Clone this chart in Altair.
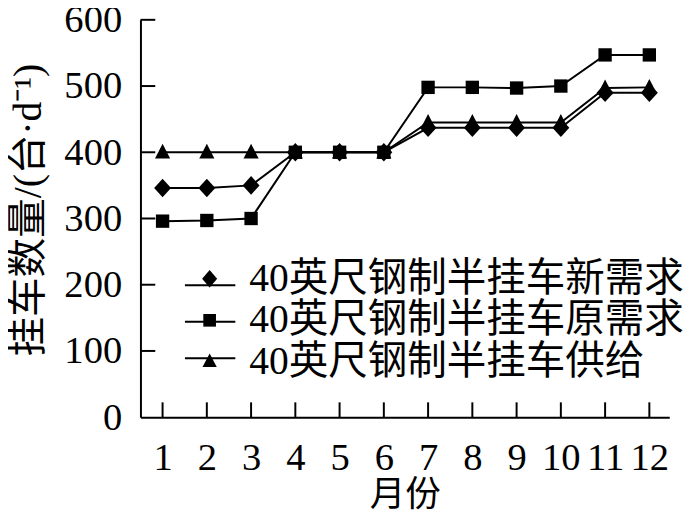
import altair as alt
import pandas as pd

# ---- data ----
months = list(range(1, 13))
series_names = ["40英尺钢制半挂车新需求", "40英尺钢制半挂车原需求", "40英尺钢制半挂车供给"]
new_demand = [346, 346, 350, 400, 400, 400, 437, 437, 437, 437, 490, 490]
orig_demand = [296, 297, 300, 400, 400, 400, 498, 498, 497, 500, 547, 547]
supply = [400, 400, 400, 400, 400, 400, 445, 445, 445, 445, 497, 498]
y_ticks = [0, 100, 200, 300, 400, 500, 600]

x_title = "月份"
y_title = "挂车数量/(台·d⁻¹)"

rows = []
for name, vals in zip(series_names, [new_demand, orig_demand, supply]):
    for m, v in zip(months, vals):
        rows.append({"month": m, "value": v, "series": name, "series_line": name})
df = pd.DataFrame(rows)
xt = pd.DataFrame({"month": months})
yt = pd.DataFrame({"value": [v for v in y_ticks if v > 0]})

# ---- styling ----
W, H = 535, 402
FONT = "'Liberation Serif', 'Noto Sans CJK SC'"
FS = 39
TICK = 15
LEG_X, LEG_Y = 50, 242

marker_paths = [
    "M0,-1.05L0.95,0L0,1.05L-0.95,0Z",
    "M-0.75,-0.75H0.75V0.75H-0.75Z",
    "M0,-0.95L0.85,0.7H-0.85Z",
]
legend_paths = [
    "M0,-1.1L0.95,0L0,1.1L-0.95,0Z",
    "M-0.8,-0.8L0.8,-0.8L0.8,0.8L-0.8,0.8Z",
    "M0,-1.05L0.9,0.65L-0.9,0.65Z",
]

x_enc = alt.X(
    "month:Q",
    scale=alt.Scale(domain=[0.5, 12.45], nice=False, zero=False),
    axis=alt.Axis(
        values=months, format="d", ticks=False, tickSize=0, grid=False,
        domainColor="black", domainWidth=2,
        labelFont=FONT, labelFontSize=FS, labelColor="black", labelPadding=22,
        labelFlush=False, labelOverlap=False,
        title=x_title, titleFont=FONT, titleFontSize=36, titleFontWeight="normal",
        titleColor="black", titlePadding=0,
    ),
)
y_enc = alt.Y(
    "value:Q",
    scale=alt.Scale(domain=[0, 600], nice=False, zero=True),
    axis=alt.Axis(
        values=y_ticks, format="d", ticks=False, tickSize=0, grid=False,
        domainColor="black", domainWidth=2,
        labelFont=FONT, labelFontSize=FS, labelColor="black", labelPadding=19,
        labelFlush=False, labelOverlap=False,
        title=y_title, titleFont=FONT, titleFontSize=40, titleFontWeight="normal",
        titleColor="black", titlePadding=16, titleY=192,
    ),
)

x_ticks = alt.Chart(xt).mark_rule(color="black", strokeWidth=2).encode(
    x=alt.X("month:Q"), y=alt.value(H), y2=alt.value(H - TICK)
)
y_ticks_layer = alt.Chart(yt).mark_rule(color="black", strokeWidth=2).encode(
    y=alt.Y("value:Q"), x=alt.value(0), x2=alt.value(TICK)
)

# lines; their (label-less) legend gives the horizontal stroke behind each legend marker
lines = alt.Chart(df).mark_line(strokeWidth=2).encode(
    x=x_enc, y=y_enc,
    color=alt.Color(
        "series_line:N",
        sort=series_names,
        scale=alt.Scale(range=["black"] * 3),
        legend=alt.Legend(
            title=None, orient="none", legendX=LEG_X - 6, legendY=LEG_Y,
            symbolType="stroke", symbolSize=2601, symbolStrokeWidth=2,
            symbolStrokeColor="black", labelExpr="''", rowPadding=5, zindex=0,
        ),
    ),
)

marker_layers = [
    alt.Chart(df).transform_filter(alt.datum.series == name).mark_point(
        filled=True, color="black", opacity=1, size=324, shape=path
    ).encode(x="month:Q", y="value:Q")
    for name, path in zip(series_names, marker_paths)
]

legend_layer = alt.Chart(df).transform_filter("false").mark_point(
    filled=True, color="black", opacity=1, size=256
).encode(
    x="month:Q", y="value:Q",
    shape=alt.Shape(
        "series:N",
        scale=alt.Scale(domain=series_names, range=legend_paths),
        legend=alt.Legend(
            title=None, orient="none", legendX=LEG_X, legendY=LEG_Y,
            labelFont=FONT, labelFontSize=40, labelColor="black", labelLimit=1000,
            symbolSize=256, symbolFillColor="black", symbolOpacity=1,
            labelOffset=20, zindex=1,
        ),
    ),
)

chart = alt.layer(x_ticks, y_ticks_layer, lines, *marker_layers, legend_layer).properties(
    width=W, height=H,
    autosize=alt.AutoSizeParams(type="none"),
    padding={"left": 134, "top": 9, "right": 23, "bottom": 95},
    background="white",
).configure_view(stroke=None)

chart.save("out.html", embed_options={"renderer": "svg", "actions": False})
